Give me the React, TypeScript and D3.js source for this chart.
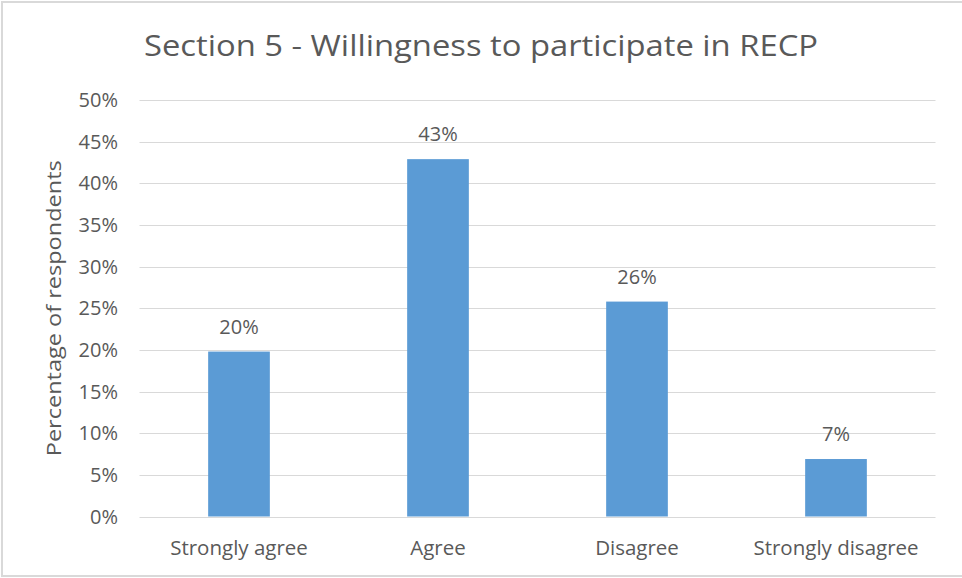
import React from "react";
import * as d3 from "d3";

const categories = ["Strongly agree", "Agree", "Disagree", "Strongly disagree"];
const values = [19.8, 42.9, 25.8, 6.9];
const labels = ["20%", "43%", "26%", "7%"];
const yTicks = [0, 5, 10, 15, 20, 25, 30, 35, 40, 45, 50];
const title = "Section 5 - Willingness to participate in RECP";
const yTitle = "Percentage of respondents";

const W = 962;
const H = 578;
const FONT = "'Open Sans', 'Liberation Sans', sans-serif";
const TEXT = "#595959";

export default function App() {
  const left = 139.5;
  const right = 935.5;
  const top = 100;
  const bottom = 516.5;
  const x = d3.scaleBand<string>().domain(categories).range([left, right]).paddingInner(0.69).paddingOuter(0.345);
  const y = d3.scaleLinear().domain([0, 50]).range([bottom, top]);

  return (
    <svg width={W} height={H} style={{ position: "absolute", left: 0, top: 0, background: "#fff" }} fontFamily={FONT}>
      <rect x={2} y={2} width={W + 10} height={H - 4} fill="#fff" stroke="#d9d9d9" strokeWidth={2} />
      <text x={481} y={56} textAnchor="middle" fontSize={29} fill={TEXT} textLength={674} lengthAdjust="spacingAndGlyphs">
        {title}
      </text>
      {yTicks.map((t) => (
        <g key={t}>
          <line x1={left} x2={right} y1={Math.round(y(t)) + 0.5} y2={Math.round(y(t)) + 0.5} stroke="#d9d9d9" strokeWidth={1} />
          <text x={118} y={y(t)} dy="0.35em" textAnchor="end" fontSize={20} fill={TEXT}>
            {t}%
          </text>
        </g>
      ))}
      <text
        transform={`translate(61, ${(top + bottom) / 2}) rotate(-90)`}
        textAnchor="middle"
        fontSize={20}
        fill={TEXT}
        textLength={296}
        lengthAdjust="spacingAndGlyphs"
      >
        {yTitle}
      </text>
      {categories.map((c, i) => (
        <g key={c}>
          <rect x={x(c)} y={y(values[i])} width={x.bandwidth()} height={bottom - y(values[i])} fill="#5b9bd5" />
          <text x={(x(c) as number) + x.bandwidth() / 2} y={y(values[i]) - 18} textAnchor="middle" fontSize={20} fill={TEXT}>
            {labels[i]}
          </text>
          <text x={(x(c) as number) + x.bandwidth() / 2} y={555} textAnchor="middle" fontSize={20.5} fill={TEXT}>
            {c}
          </text>
        </g>
      ))}
    </svg>
  );
}
